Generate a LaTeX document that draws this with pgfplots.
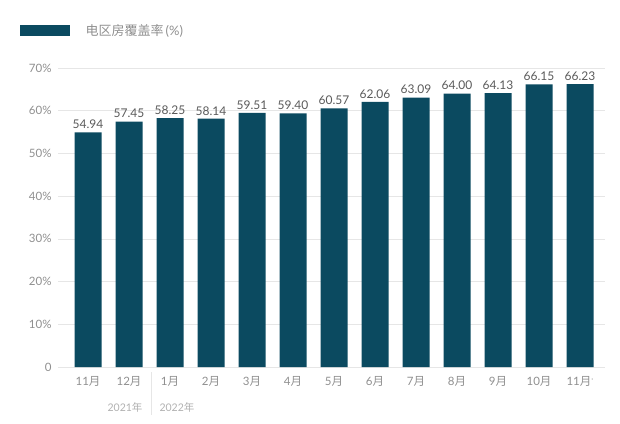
\documentclass[border=0pt]{standalone}
\usepackage{fontspec}
\setmainfont{Lato}
\newfontfamily\cjk{Noto Sans CJK SC}
\usepackage{pgfplots}
\pgfplotsset{compat=1.18}
\definecolor{bar}{HTML}{0B4A60}
\definecolor{tick}{HTML}{8F8F8F}
\definecolor{val}{HTML}{5A5A5A}
\definecolor{yr}{HTML}{B0B0B0}
\definecolor{gridc}{HTML}{E6E6E6}
\begin{document}
\begin{tikzpicture}[x=1pt,y=1pt]
\path[use as bounding box] (0,0) rectangle (620,423);
\begin{axis}[
  at={(58pt,56pt)}, anchor=south west,
  scale only axis, width=547pt, height=299pt,
  ybar, bar width=27pt,
  xmin=-0.732, xmax=12.61, ymin=0, ymax=70,
  axis line style={draw=none},
  tick style={draw=none},
  ytick={0,10,...,70},
  yticklabels={0,10\%,20\%,30\%,40\%,50\%,60\%,70\%},
  ymajorgrids, xmajorgrids=false,
  y grid style={draw=gridc, line width=0.6pt},
  xtick={0,...,12},
  xticklabels={11{\cjk 月},12{\cjk 月},1{\cjk 月},2{\cjk 月},3{\cjk 月},4{\cjk 月},5{\cjk 月},6{\cjk 月},7{\cjk 月},8{\cjk 月},9{\cjk 月},10{\cjk 月},11{\cjk 月}\raisebox{0.6ex}{\tiny*}},
  xticklabel style={font=\fontsize{11.5}{13}\selectfont, text=tick, yshift=-2pt},
  yticklabel style={font=\fontsize{11.5}{13}\selectfont, text=tick, xshift=-3pt},
  /pgf/number format/assume math mode=true,
  nodes near coords,
  nodes near coords style={font=\fontsize{12}{14}\selectfont, text=val, /pgf/number format/.cd, fixed, fixed zerofill, precision=2},
  clip=false,
]
\addplot[fill=bar, draw=none] coordinates {
  (0,54.94) (1,57.45) (2,58.25) (3,58.14) (4,59.51) (5,59.40) (6,60.57)
  (7,62.06) (8,63.09) (9,64.00) (10,64.13) (11,66.15) (12,66.23)};
\end{axis}
% legend
\fill[bar] (20,387) rectangle (70,398);
\node[anchor=west, text=tick, font=\fontsize{13}{15}\selectfont] at (82,392.5) {{\cjk 电区房覆盖率}\,(\%)};
% year labels
\draw[gridc, line width=0.6pt] (151,8) -- (151,51);
\node[anchor=east, text=yr, font=\fontsize{10.5}{12}\selectfont] at (146,16) {2021{\cjk 年}};
\node[anchor=west, text=yr, font=\fontsize{10.5}{12}\selectfont] at (156,16) {2022{\cjk 年}};
\end{tikzpicture}
\end{document}
